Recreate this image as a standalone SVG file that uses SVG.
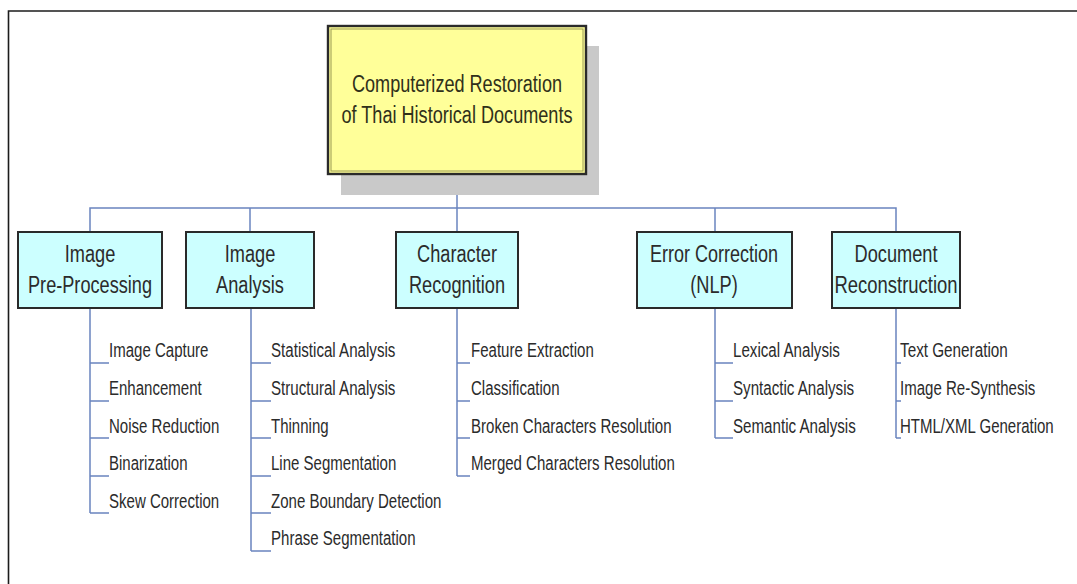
<svg xmlns="http://www.w3.org/2000/svg" width="1077" height="584" viewBox="0 0 1077 584">
  <style>
    text { font-family: "Liberation Sans", Arial, sans-serif; fill: #2b2b2b; }
    .title { font-size: 23.5px; text-anchor: middle; fill: #30301a; }
    .head { font-size: 23.5px; text-anchor: middle; }
    .item { font-size: 19.5px; }
    .frame { stroke: #1c1c1c; stroke-width: 1.6; fill: none; }
    .root { fill: #ffff99; stroke: #2a2a2a; stroke-width: 2.4; }
    .root-inner { fill: none; stroke: #9a9a55; stroke-width: 1; }
    .shadow { fill: #c9c9c9; }
    .box { fill: #ccffff; stroke: #2a2a2a; stroke-width: 2; }
    .wire { stroke: #6a84bf; stroke-width: 1.5; fill: none; }
  </style>

  <rect width="1077" height="584" fill="#ffffff"/>

  <!-- page frame: top and left rules -->
  <path class="frame" d="M8.5 584 V11 H1077"/>

  <!-- connectors -->
  <g id="connectors">
    <path class="wire" d="M457 174 V208"/>
    <path class="wire" d="M90 232 V208 H896 V232"/>
    <path class="wire" d="M250 208 V232"/>
    <path class="wire" d="M457 208 V232"/>
    <path class="wire" d="M715 208 V232"/>
    <!-- branch lists -->
    <path class="wire" d="M90 308 V513 M90 363 H109 M90 401 H109 M90 438 H109 M90 476 H109 M90 513 H109"/>
    <path class="wire" d="M251 308 V551 M251 363 H271 M251 401 H271 M251 438 H271 M251 476 H271 M251 513 H271 M251 551 H271"/>
    <path class="wire" d="M457 308 V476 M457 363 H470 M457 401 H470 M457 438 H470 M457 476 H470"/>
    <path class="wire" d="M715 308 V438 M715 363 H733 M715 401 H733 M715 438 H733"/>
    <path class="wire" d="M896 308 V438 M896 363 H901 M896 401 H901 M896 438 H901"/>
  </g>

  <!-- root node -->
  <g id="root">
    <rect class="shadow" x="341" y="46" width="258" height="149"/>
    <rect class="root" x="328" y="26" width="258" height="148"/>
    <rect class="root-inner" x="331" y="29" width="252" height="142"/>
    <text class="title" x="457" y="92" textLength="210" lengthAdjust="spacingAndGlyphs">Computerized Restoration</text>
    <text class="title" x="457" y="123" textLength="231" lengthAdjust="spacingAndGlyphs">of Thai Historical Documents</text>
  </g>

  <!-- stage nodes -->
  <g id="preprocessing">
    <rect class="box" x="18" y="232" width="144" height="76"/>
    <text class="head" x="90" y="262" textLength="50.6" lengthAdjust="spacingAndGlyphs">Image</text>
    <text class="head" x="90" y="293" textLength="124" lengthAdjust="spacingAndGlyphs">Pre-Processing</text>
  </g>
  <g id="analysis">
    <rect class="box" x="186" y="232" width="128" height="76"/>
    <text class="head" x="250" y="262" textLength="50.6" lengthAdjust="spacingAndGlyphs">Image</text>
    <text class="head" x="250" y="293" textLength="67.8" lengthAdjust="spacingAndGlyphs">Analysis</text>
  </g>
  <g id="recognition">
    <rect class="box" x="396" y="232" width="122" height="76"/>
    <text class="head" x="457" y="262" textLength="79.9" lengthAdjust="spacingAndGlyphs">Character</text>
    <text class="head" x="457" y="293" textLength="96.1" lengthAdjust="spacingAndGlyphs">Recognition</text>
  </g>
  <g id="correction">
    <rect class="box" x="637" y="232" width="155" height="76"/>
    <text class="head" x="714" y="262" textLength="128" lengthAdjust="spacingAndGlyphs">Error Correction</text>
    <text class="head" x="714" y="293" textLength="47.5" lengthAdjust="spacingAndGlyphs">(NLP)</text>
  </g>
  <g id="reconstruction">
    <rect class="box" x="832" y="232" width="128" height="76"/>
    <text class="head" x="896" y="262" textLength="82.9" lengthAdjust="spacingAndGlyphs">Document</text>
    <text class="head" x="896" y="293" textLength="123" lengthAdjust="spacingAndGlyphs">Reconstruction</text>
  </g>

  <!-- sub-task lists -->
  <g id="preprocessing-items">
    <text class="item" x="109" y="357" textLength="99.4" lengthAdjust="spacingAndGlyphs">Image Capture</text>
    <text class="item" x="109" y="395" textLength="92.7" lengthAdjust="spacingAndGlyphs">Enhancement</text>
    <text class="item" x="109" y="433" textLength="110.3" lengthAdjust="spacingAndGlyphs">Noise Reduction</text>
    <text class="item" x="109" y="470" textLength="78.5" lengthAdjust="spacingAndGlyphs">Binarization</text>
    <text class="item" x="109" y="508" textLength="110.2" lengthAdjust="spacingAndGlyphs">Skew Correction</text>
  </g>
  <g id="analysis-items">
    <text class="item" x="271" y="357" textLength="124.4" lengthAdjust="spacingAndGlyphs">Statistical Analysis</text>
    <text class="item" x="271" y="395" textLength="124.4" lengthAdjust="spacingAndGlyphs">Structural Analysis</text>
    <text class="item" x="271" y="433" textLength="57.6" lengthAdjust="spacingAndGlyphs">Thinning</text>
    <text class="item" x="271" y="470" textLength="125.3" lengthAdjust="spacingAndGlyphs">Line Segmentation</text>
    <text class="item" x="271" y="508" textLength="170.4" lengthAdjust="spacingAndGlyphs">Zone Boundary Detection</text>
    <text class="item" x="271" y="545" textLength="144.5" lengthAdjust="spacingAndGlyphs">Phrase Segmentation</text>
  </g>
  <g id="recognition-items">
    <text class="item" x="471" y="357" textLength="122.8" lengthAdjust="spacingAndGlyphs">Feature Extraction</text>
    <text class="item" x="471" y="395" textLength="88.5" lengthAdjust="spacingAndGlyphs">Classification</text>
    <text class="item" x="471" y="433" textLength="200.5" lengthAdjust="spacingAndGlyphs">Broken Characters Resolution</text>
    <text class="item" x="471" y="470" textLength="203.8" lengthAdjust="spacingAndGlyphs">Merged Characters Resolution</text>
  </g>
  <g id="correction-items">
    <text class="item" x="733" y="357" textLength="106.9" lengthAdjust="spacingAndGlyphs">Lexical Analysis</text>
    <text class="item" x="733" y="395" textLength="121.1" lengthAdjust="spacingAndGlyphs">Syntactic Analysis</text>
    <text class="item" x="733" y="433" textLength="122.8" lengthAdjust="spacingAndGlyphs">Semantic Analysis</text>
  </g>
  <g id="reconstruction-items">
    <text class="item" x="900" y="357" textLength="107.8" lengthAdjust="spacingAndGlyphs">Text Generation</text>
    <text class="item" x="900" y="395" textLength="135.3" lengthAdjust="spacingAndGlyphs">Image Re-Synthesis</text>
    <!-- condensed by scaling so the line stays inside the page -->
    <text class="item" transform="translate(900 433) scale(0.77 1)">HTML/XML Generation</text>
  </g>
</svg>
